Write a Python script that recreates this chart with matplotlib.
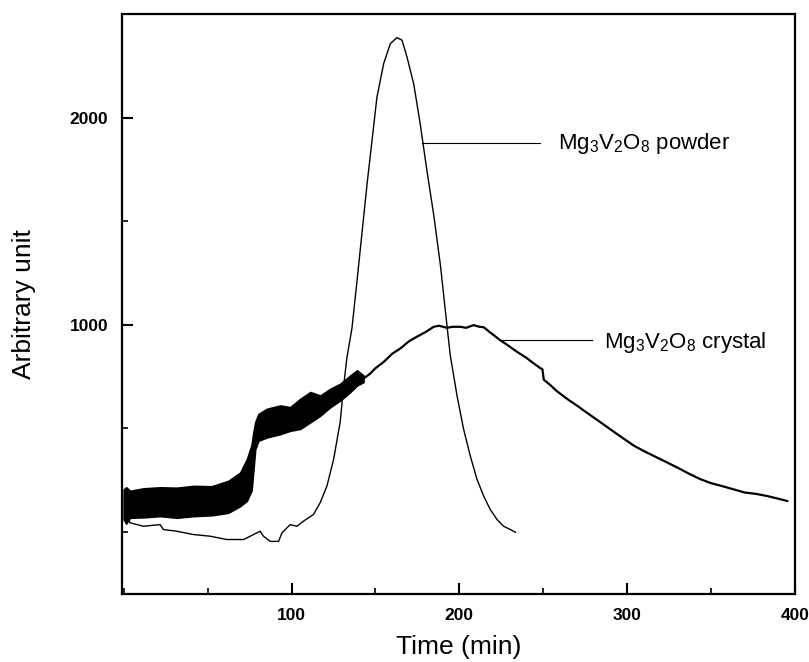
import matplotlib
matplotlib.use("Agg")
import matplotlib.pyplot as plt
from matplotlib.ticker import MultipleLocator, FixedLocator

plt.rcParams['font.family'] = ['Liberation Sans', 'DejaVu Sans']
plt.rcParams['mathtext.default'] = 'regular'

# powder curve (thin line)
powder_time = [0.8, 3.8, 11.7, 21.7, 23.7, 31.7, 41.6, 51.5, 61.5, 71.4, 75.4, 81.3,
               83.3, 87.3, 92.3, 94.3, 99.2, 103.2, 107.2, 113.1, 117.1, 121.1, 125.1,
               129.0, 131.0, 133.0, 136.0, 139.0, 145.0, 150.9, 154.9, 158.9, 162.8,
               165.8, 168.8, 172.8, 176.7, 180.7, 184.7, 188.7, 192.6, 194.6, 198.6,
               202.5, 206.5, 210.5, 214.5, 218.4, 222.4, 226.4, 230.4, 233.4]
powder_signal = [92, 44, 27, 35, 11, 3, -13, -21, -37, -37, -21, 3,
                 -21, -46, -46, -5, 35, 27, 52, 84, 141, 221, 351,
                 530, 700, 840, 982, 1209, 1678, 2098, 2260, 2357, 2386,
                 2374, 2293, 2163, 1969, 1743, 1532, 1289, 998, 852, 658,
                 497, 367, 254, 173, 108, 60, 27, 11, -2]

# crystal curve, noisy first part given as its upper / lower envelope
band_time = [0.0, 1.5, 3.8, 11.7, 21.7, 31.7, 41.6, 52.3, 62.3, 69.4, 73.4, 76.2,
             77.3, 78.4, 80.3, 85.3, 93.3, 99.2, 105.2, 111.2, 117.1, 123.1,
             129.0, 135.0, 139.0, 142.9]
band_upper = [205, 215, 198, 210, 215, 213, 222, 220, 246, 286, 351, 420,
              481, 530, 569, 594, 610, 602, 642, 675, 658, 691,
              715, 755, 780, 755]
band_lower = [60, 40, 68, 70, 76, 68, 76, 80, 92, 124, 150, 200,
              300, 400, 440, 456, 472, 488, 497, 529, 561, 602,
              634, 675, 707, 723]

crystal_time = [142.9, 146.9, 150, 154.9, 160, 164.8, 170, 174.7, 180, 184.7, 188,
                192.6, 196, 200.6, 204, 208.5, 212, 214.5, 218, 220.4, 224.4, 229,
                234.4, 240, 244, 248.3, 249.5, 250.3, 254, 258, 264.2, 270, 274.1,
                284.1, 290, 297, 304, 310, 317, 323.8, 330, 337, 343.7, 350, 357,
                363.5, 370, 377, 383.4, 390, 395.4]
crystal_signal = [740, 764, 790, 820, 860, 885, 920, 942, 965, 990, 995,
                  985, 990, 990, 985, 998, 990, 988, 965, 950, 925, 900,
                  869, 840, 815, 790, 785, 735, 710, 680, 642, 610, 586,
                  529, 495, 455, 416, 390, 362, 335, 310, 280, 254, 235, 220,
                  205, 190, 183, 173, 160, 149]

x_major = [100, 200, 300, 400]
y_major = [1000, 2000]

fig = plt.figure(figsize=(8.09, 6.62), dpi=100)
ax = fig.add_axes([122 / 809, 68 / 662, 673 / 809, 580 / 662])

ax.plot(powder_time, powder_signal, color='black', lw=1.0)
ax.fill_between(band_time, band_lower, band_upper, color='black', lw=1.2)
ax.plot(crystal_time, crystal_signal, color='black', lw=1.6)

# labels with leader lines
ax.plot([177.8, 248.3], [1875, 1875], color='black', lw=0.8)
ax.text(259, 1846, r'Mg$_{3}$V$_{2}$O$_{8}$ powder', fontsize=16, va='baseline')
ax.plot([223.4, 279.1], [925, 925], color='black', lw=0.8)
ax.text(286, 886, r'Mg$_{3}$V$_{2}$O$_{8}$ crystal', fontsize=16, va='baseline')

ax.set_xlim(-1, 400)
ax.set_ylim(-300, 2500)
ax.xaxis.set_major_locator(FixedLocator(x_major))
ax.yaxis.set_major_locator(FixedLocator(y_major))
ax.xaxis.set_minor_locator(MultipleLocator(50))
ax.yaxis.set_minor_locator(MultipleLocator(500))
ax.tick_params(which='major', direction='in', length=8, width=1.5, pad=10,
               labelsize=12.5)
ax.tick_params(which='minor', direction='in', length=4.5, width=1.2)
for lab in ax.get_xticklabels() + ax.get_yticklabels():
    lab.set_fontweight('bold')
for sp in ax.spines.values():
    sp.set_linewidth(1.6)

ax.set_xlabel('Time (min)', fontsize=19, labelpad=9)
ax.set_ylabel('Arbitrary unit', fontsize=19, labelpad=24)

fig.savefig('out.png', dpi=100)
